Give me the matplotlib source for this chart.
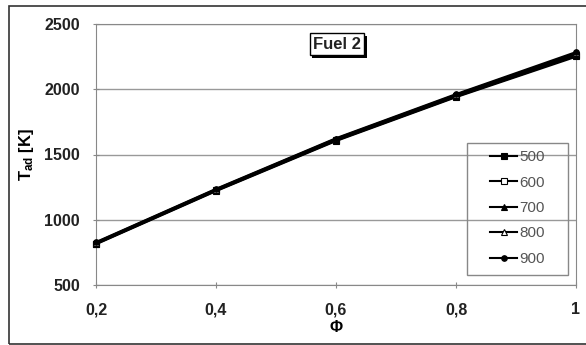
import matplotlib
matplotlib.use("Agg")
import matplotlib.pyplot as plt
from matplotlib.patches import Rectangle
import matplotlib.patheffects as pe

plt.rcParams['font.family'] = ['Liberation Sans', 'DejaVu Sans']
plt.rcParams['mathtext.fontset'] = 'custom'
plt.rcParams['mathtext.rm'] = 'Liberation Sans:bold'
plt.rcParams['mathtext.it'] = 'Liberation Sans:bold'

## Dados
phi = [0.2, 0.4, 0.6, 0.8, 1.0]
xticklabels = ['0,2', '0,4', '0,6', '0,8', '1']
series_names = ['500', '600', '700', '800', '900']
t500 = [815, 1222, 1606, 1942, 2252]
t600 = [818, 1225, 1610, 1946, 2259]
t700 = [820, 1228, 1614, 1950, 2266]
t800 = [823, 1231, 1618, 1955, 2274]
t900 = [826, 1234, 1622, 1960, 2282]
series = [t500, t600, t700, t800, t900]

markers = ['s', 's', '^', '^', 'o']
faces = ['black', 'white', 'black', 'white', 'black']
msizes = [5, 5, 5, 5, 4]

W, H = 586, 345
fig = plt.figure(figsize=(W/100, H/100), dpi=100)
ax = fig.add_axes([96/W, 60/H, 480/W, 261/H])

for vals, name, m, fc, ms in zip(series, series_names, markers, faces, msizes):
    ax.plot(phi, vals, color='black', lw=2, marker=m, markersize=ms,
            markerfacecolor=fc, markeredgecolor='black', markeredgewidth=0.8,
            label=name, clip_on=False, zorder=3)

ax.set_xlim(0.2, 1.0)
ax.set_ylim(500, 2500)
ax.set_xticks(phi)
ax.set_xticklabels(xticklabels)
ax.set_yticks([500, 1000, 1500, 2000, 2500])
ax.yaxis.grid(True, color='#999999', lw=1)
for s in ax.spines.values():
    s.set_color('#888888')
ax.tick_params(direction='inout', length=5, color='#888888', labelsize=11.5)
ax.tick_params(axis='y', pad=9)
ax.tick_params(axis='x', pad=10)
for lab in ax.get_xticklabels() + ax.get_yticklabels():
    lab.set_fontweight('bold')
    lab.set_color('#222222')

ax.set_xlabel('Φ', fontsize=11.5, fontweight='bold', labelpad=2)
ax.set_ylabel(r'T$_{\mathregular{ad}}$ [K]', fontsize=12, fontweight='bold', labelpad=6)

# caixa "Fuel 2" com sombra
ftxt = ax.text(0.502, 0.923, 'Fuel 2', transform=ax.transAxes, ha='center', va='center',
               fontsize=12, fontweight='bold', color='#222222',
               bbox=dict(boxstyle='square,pad=0.2', fc='white', ec='black', lw=1))
ftxt.get_bbox_patch().set_path_effects([
    pe.SimplePatchShadow(offset=(2, -2), shadow_rgbFace='black', alpha=1.0), pe.Normal()])

# legenda com moldura desenhada à parte
leg = ax.legend(loc='center', bbox_to_anchor=((517.5-96)/480, (285-208)/261), frameon=False,
                fontsize=11, handlelength=1.8, labelspacing=0.75, handletextpad=0.15,
                borderpad=0)
for t in leg.get_texts():
    t.set_color('#555555')
for h in leg.legend_handles:
    h.set_linewidth(1.5)
ax.add_patch(Rectangle(((467-96)/480, (285-275)/261), 101/480, 132/261,
                       transform=ax.transAxes, fill=False, ec='#888888', lw=1, zorder=5))

# moldura da figura
fig.patches.append(Rectangle((9/W, 1.5/H), 590/W, 337.5/H, transform=fig.transFigure,
                             fill=False, ec='#333333', lw=1.2))

plt.savefig('out.png', dpi=100)
